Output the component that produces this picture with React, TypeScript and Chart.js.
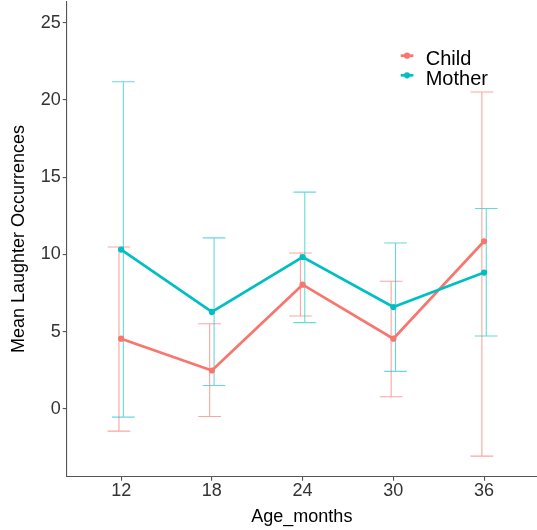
import { useEffect, useRef } from "react";
import { Chart, registerables } from "chart.js";

Chart.register(...registerables);

// ---- data ----
const ages = [12, 18, 24, 30, 36];
const yTickValues = [0, 5, 10, 15, 20, 25];
const seriesNames = ["Child", "Mother"];
const childMean = [4.54, 2.48, 8.04, 4.54, 10.85];
const childLow = [-1.45, -0.5, 6.01, 0.78, -3.07];
const childHigh = [10.48, 5.51, 10.09, 8.26, 20.52];
const motherMean = [10.31, 6.27, 9.83, 6.59, 8.82];
const motherLow = [-0.54, 1.51, 5.58, 2.42, 4.71];
const motherHigh = [21.18, 11.07, 14.03, 10.74, 12.97];
const xTitle = "Age_months";
const yTitle = "Mean Laughter Occurrences";

// ---- style ----
const RED = "#F8766D";
const CYAN = "#00BFC4";
const FONT = "'Liberation Sans', Arial, sans-serif";
const AXIS = "#555555";
const TICK = "#333333";

const errorBarPlugin = {
  id: "errorBars",
  beforeDatasetsDraw(chart: any, _args: any, opts: any) {
    const { ctx, scales } = chart;
    const x = scales.x;
    const y = scales.y;
    ctx.save();
    (opts.series || []).forEach((s: any) => {
      ctx.strokeStyle = s.color;
      ctx.lineWidth = opts.lineWidth;
      s.x.forEach((xv: number, i: number) => {
        const cx = x.getPixelForValue(xv + s.dodge);
        const left = x.getPixelForValue(xv + s.dodge - opts.capHalf);
        const right = x.getPixelForValue(xv + s.dodge + opts.capHalf);
        const yl = y.getPixelForValue(s.low[i]);
        const yh = y.getPixelForValue(s.high[i]);
        ctx.beginPath();
        ctx.moveTo(cx, yl);
        ctx.lineTo(cx, yh);
        ctx.moveTo(left, yl);
        ctx.lineTo(right, yl);
        ctx.moveTo(left, yh);
        ctx.lineTo(right, yh);
        ctx.stroke();
      });
    });
    ctx.restore();
  },
};

const insetLegendPlugin = {
  id: "insetLegend",
  afterDraw(chart: any, _args: any, o: any) {
    const { ctx } = chart;
    ctx.save();
    chart.data.datasets.forEach((ds: any, i: number) => {
      const base = o.y + i * o.rowGap;
      const ky = base - o.keyRaise;
      ctx.strokeStyle = ds.borderColor;
      ctx.lineWidth = ds.borderWidth;
      ctx.beginPath();
      ctx.moveTo(o.x, ky);
      ctx.lineTo(o.x + o.keyWidth, ky);
      ctx.stroke();
      ctx.fillStyle = ds.backgroundColor;
      ctx.beginPath();
      ctx.arc(o.x + o.keyWidth / 2, ky, ds.pointRadius, 0, Math.PI * 2);
      ctx.fill();
      ctx.fillStyle = "#000";
      ctx.font = `${o.fontSize}px ${FONT}`;
      ctx.textBaseline = "alphabetic";
      ctx.textAlign = "left";
      ctx.fillText(ds.label, o.x + o.textOffset, base);
    });
    ctx.restore();
  },
};

export default function App() {
  const ref = useRef<HTMLCanvasElement>(null);

  useEffect(() => {
    if (!ref.current) return;
    const chart = new Chart(ref.current, {
      type: "line",
      data: {
        datasets: [
          {
            label: seriesNames[0],
            data: ages.map((a, i) => ({ x: a, y: childMean[i] })),
            borderColor: RED,
            backgroundColor: RED,
            borderWidth: 2.7,
            pointRadius: 3.1,
            pointBorderWidth: 0,
            tension: 0,
            order: 1,
          },
          {
            label: seriesNames[1],
            data: ages.map((a, i) => ({ x: a, y: motherMean[i] })),
            borderColor: CYAN,
            backgroundColor: CYAN,
            borderWidth: 2.7,
            pointRadius: 3.1,
            pointBorderWidth: 0,
            tension: 0,
            order: 0,
          },
        ],
      },
      options: {
        animation: false,
        responsive: true,
        maintainAspectRatio: false,
        layout: { autoPadding: false, padding: { top: 1.2, left: 0, right: 0, bottom: 0 } },
        plugins: {
          legend: { display: false },
          tooltip: { enabled: false },
          errorBars: {
            lineWidth: 1.1,
            capHalf: 0.75,
            series: [
              { x: ages, low: childLow, high: childHigh, color: "rgba(248,118,109,0.65)", dodge: -0.145 },
              { x: ages, low: motherLow, high: motherHigh, color: "rgba(0,191,196,0.6)", dodge: 0.145 },
            ],
          },
          insetLegend: {
            x: 400.7,
            y: 65,
            rowGap: 19.6,
            keyWidth: 12.7,
            keyRaise: 9.3,
            textOffset: 25,
            fontSize: 20,
          },
        } as any,
        scales: {
          x: {
            type: "linear",
            min: 8.4,
            max: 39.5,
            afterBuildTicks: (s: any) => {
              s.ticks = ages.map((v) => ({ value: v }));
            },
            afterFit: (s: any) => {
              s.height = 53.3;
              s.paddingLeft = 0;
              s.paddingRight = 0;
            },
            grid: {
              display: true,
              drawOnChartArea: false,
              drawTicks: true,
              tickLength: 4,
              color: AXIS,
              lineWidth: 1.1,
            },
            border: { display: true, color: AXIS, width: 1.1 },
            ticks: {
              color: TICK,
              font: { family: FONT, size: 18 },
              padding: 0,
              maxRotation: 0,
              autoSkip: false,
              callback: (v: any) => String(v),
            },
            title: {
              display: true,
              text: xTitle,
              color: "#000",
              font: { family: FONT, size: 18 },
              padding: { top: 0, bottom: 2 },
            },
          },
          y: {
            type: "linear",
            min: -4.4,
            max: 26.4,
            afterBuildTicks: (s: any) => {
              s.ticks = yTickValues.map((v) => ({ value: v }));
            },
            afterFit: (s: any) => {
              s.width = 66.7;
              s.paddingTop = 0;
              s.paddingBottom = 0;
            },
            grid: {
              display: true,
              drawOnChartArea: false,
              drawTicks: true,
              tickLength: 4,
              color: AXIS,
              lineWidth: 1.1,
            },
            border: { display: true, color: AXIS, width: 1.1 },
            ticks: {
              color: TICK,
              font: { family: FONT, size: 18 },
              padding: 2,
              autoSkip: false,
              callback: (v: any) => String(v),
            },
            title: {
              display: true,
              text: yTitle,
              color: "#000",
              font: { family: FONT, size: 18 },
              padding: { top: 8, bottom: 0 },
            },
          },
        },
      },
      plugins: [errorBarPlugin, insetLegendPlugin],
    } as any);
    return () => chart.destroy();
  }, []);

  return (
    <div
      style={{
        position: "fixed",
        left: 0,
        top: 0,
        width: 537,
        height: 530,
        background: "#fff",
      }}
    >
      <canvas ref={ref} />
    </div>
  );
}
